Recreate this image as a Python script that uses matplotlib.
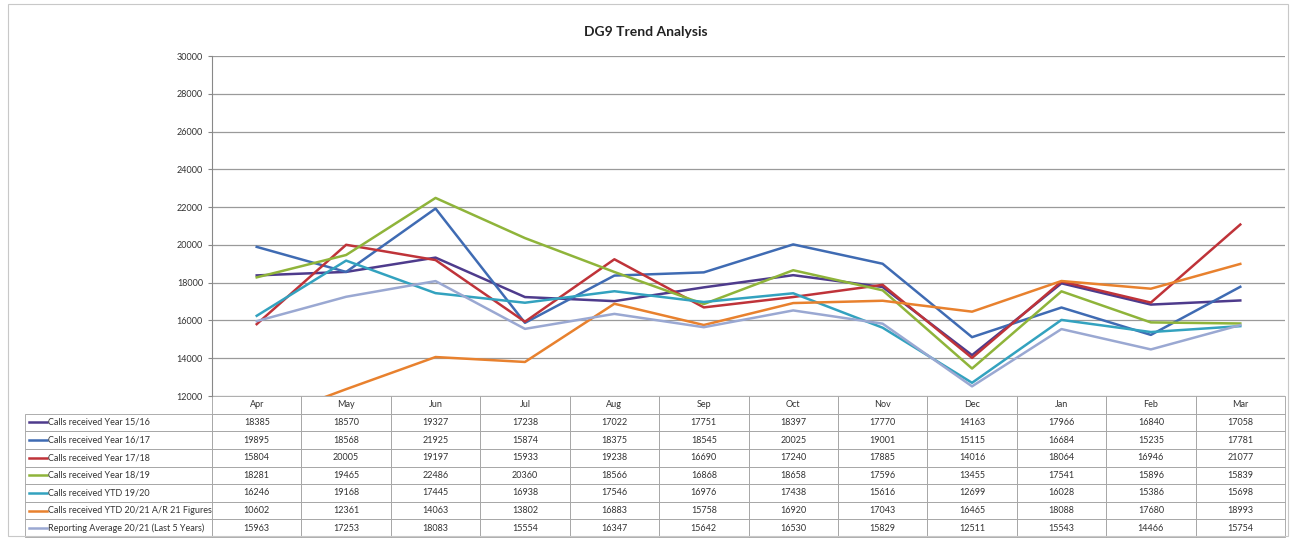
# DG9 trend chart: monthly call lines with a data table underneath.
import matplotlib
matplotlib.use("Agg")
import matplotlib.pyplot as plt
from matplotlib.patches import Rectangle

plt.rcParams["font.family"] = ["Lato", "DejaVu Sans"]

months = ["Apr", "May", "Jun", "Jul", "Aug", "Sep", "Oct", "Nov", "Dec", "Jan", "Feb", "Mar"]

series_names = [
    "Calls received Year 15/16",
    "Calls received Year 16/17",
    "Calls received Year 17/18",
    "Calls received Year 18/19",
    "Calls received YTD 19/20",
    "Calls received YTD 20/21 A/R 21 Figures",
    "Reporting Average 20/21 (Last 5 Years)",
]
calls_1516 = [18385, 18570, 19327, 17238, 17022, 17751, 18397, 17770, 14163, 17966, 16840, 17058]
calls_1617 = [19895, 18568, 21925, 15874, 18375, 18545, 20025, 19001, 15115, 16684, 15235, 17781]
calls_1718 = [15804, 20005, 19197, 15933, 19238, 16690, 17240, 17885, 14016, 18064, 16946, 21077]
calls_1819 = [18281, 19465, 22486, 20360, 18566, 16868, 18658, 17596, 13455, 17541, 15896, 15839]
calls_1920 = [16246, 19168, 17445, 16938, 17546, 16976, 17438, 15616, 12699, 16028, 15386, 15698]
calls_2021 = [10602, 12361, 14063, 13802, 16883, 15758, 16920, 17043, 16465, 18088, 17680, 18993]
avg_5yr = [15963, 17253, 18083, 15554, 16347, 15642, 16530, 15829, 12511, 15543, 14466, 15754]

series = [calls_1516, calls_1617, calls_1718, calls_1819, calls_1920, calls_2021, avg_5yr]
colors = ["#4e3b8c", "#3f6bb3", "#bf3339", "#8fb43a", "#33a2bf", "#e8812e", "#9aa8d2"]

W, H = 1292, 538
fig = plt.figure(figsize=(W / 100, H / 100), dpi=100)

# outer chart border
fig.add_artist(Rectangle((8 / W, 2 / H), (W - 12) / W, (H - 6) / H,
                         transform=fig.transFigure, fill=False,
                         edgecolor="#c8c8c8", linewidth=0.8))

px_l, px_r, px_t, px_b = 212, 1285, 56, 396
ax = fig.add_axes([px_l / W, 1 - px_b / H, (px_r - px_l) / W, (px_b - px_t) / H])

x = [i + 0.5 for i in range(len(months))]
for vals, col in zip(series, colors):
    ax.plot(x, vals, color=col, linewidth=1.8)

ax.set_xlim(0, 12)
ax.set_ylim(12000, 30000)
ax.set_yticks(range(12000, 30001, 2000))
ax.tick_params(axis="y", labelsize=6.5, length=3, color="#888888", labelcolor="#333333")
ax.set_xticks([])
ax.grid(True, axis="y", color="#9a9a9a", linewidth=0.9)
ax.set_axisbelow(True)
for s in ["top", "right", "bottom"]:
    ax.spines[s].set_visible(False)
ax.spines["left"].set_color("#888888")

fig.text(0.5, 1 - 32 / H, "DG9 Trend Analysis", ha="center", va="center",
         fontsize=10, fontweight="bold", color="#222222")

# --- Data table under the plot (first column holds the legend keys) ---
cell_text = [[""] + [str(v) for v in vals] for vals in series]
plot_w = px_r - px_l
plot_h = px_b - px_t
tbl_left = 25
tbl_bottom = 537
bbox = [(tbl_left - px_l) / plot_w, -(tbl_bottom - px_b) / plot_h,
        (px_r - tbl_left) / plot_w, (tbl_bottom - px_b) / plot_h]
tbl = ax.table(cellText=cell_text, colLabels=[""] + months, cellLoc="center", bbox=bbox)
tbl.auto_set_font_size(False)
tbl.set_fontsize(6.5)
for (r, c), cell in tbl.get_celld().items():
    cell.set_edgecolor("#a0a0a0")
    cell.set_linewidth(0.6)
    cell.get_text().set_color("#333333")
    cell.set_width(187 / 89.4 if c == 0 else 1.0)
    if r == 0 and c == 0:
        cell.visible_edges = ""
        cell.set_fill(False)

# legend keys and labels in the first column
n_rows = len(series) + 1
row_h = bbox[3] / n_rows
x0 = bbox[0]
for i, (name, col) in enumerate(zip(series_names, colors)):
    yc = bbox[1] + bbox[3] - row_h * (i + 1.5)
    ax.plot([x0 + 4 / plot_w, x0 + 22 / plot_w], [yc, yc], color=col, linewidth=1.8,
            transform=ax.transAxes, clip_on=False)
    ax.text(x0 + 23 / plot_w, yc, name, transform=ax.transAxes, ha="left", va="center",
            fontsize=6.5, color="#333333")

fig.savefig("out.png", dpi=100)
